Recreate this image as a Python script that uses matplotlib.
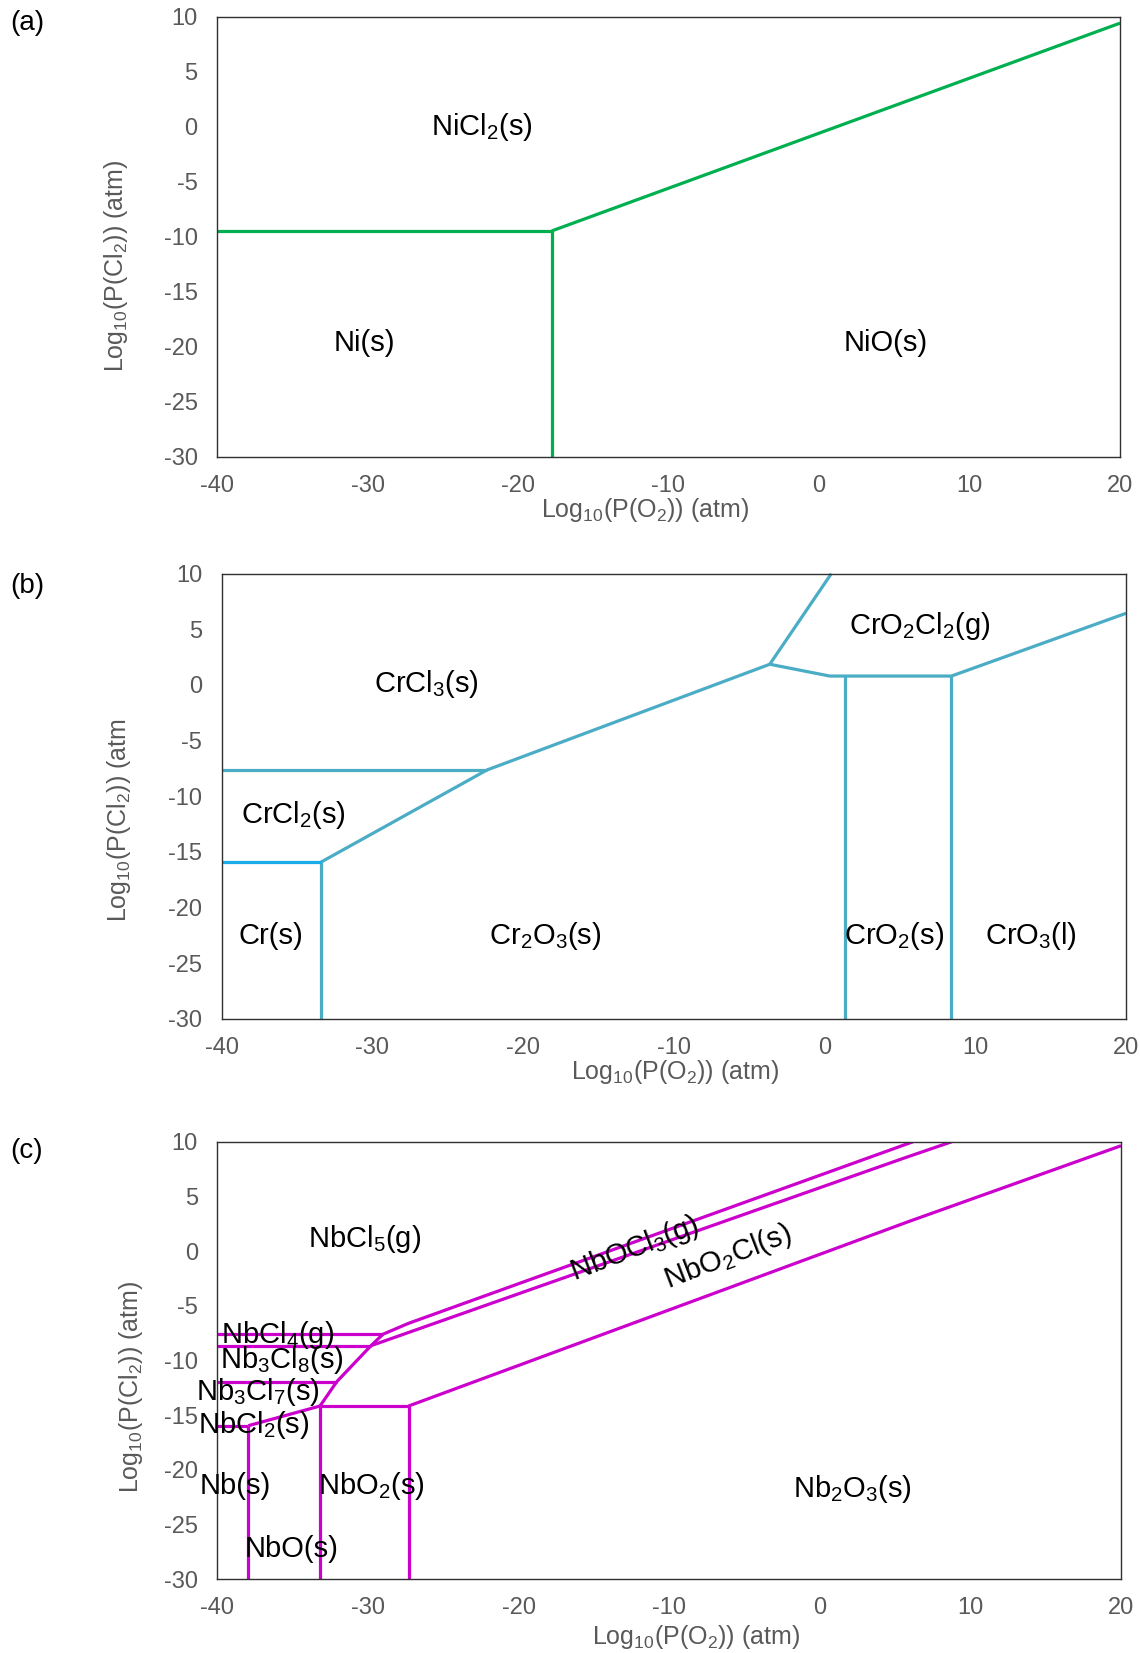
import matplotlib
matplotlib.use("Agg")
import matplotlib.pyplot as plt

plt.rcParams['font.family'] = ['Liberation Sans', 'DejaVu Sans']
plt.rcParams['mathtext.default'] = 'regular'
plt.rcParams['axes.unicode_minus'] = False

# ---------------- data ----------------
xticks = [-40, -30, -20, -10, 0, 10, 20]
yticks = [-30, -25, -20, -15, -10, -5, 0, 5, 10]

# (a) Ni-O-Cl
ni_h_x = [-40, -17.76]
ni_h_y = [-9.45, -9.45]
ni_v_x = [-17.76, -17.76]
ni_v_y = [-30, -9.45]
ni_s_x = [-17.76, 20]
ni_s_y = [-9.45, 9.44]
ni_labels = ['NiCl$_2$(s)', 'Ni(s)', 'NiO(s)']
ni_lab_x = [-22.4, -30.2, 4.45]
ni_lab_y = [0.0, -19.6, -19.6]

# (b) Cr-O-Cl
cr_h1_x = [-40, -22.4]
cr_h1_y = [-7.65, -7.65]
cr_h2_x = [-40, -33.42]
cr_h2_y = [-15.94, -15.94]
cr_v1_x = [-33.42, -33.42]
cr_v1_y = [-30, -15.94]
cr_s1_x = [-33.42, -22.4, -3.63]
cr_s1_y = [-15.94, -7.65, 1.86]
cr_s2_x = [-3.63, 0.45]
cr_s2_y = [1.86, 10]
cr_s3_x = [-3.63, 0.35, 8.42, 20]
cr_s3_y = [1.86, 0.8, 0.8, 6.44]
cr_v2_x = [1.35, 1.35]
cr_v2_y = [-30, 0.8]
cr_v3_x = [8.42, 8.42]
cr_v3_y = [-30, 0.8]
cr_labels = ['CrCl$_3$(s)', 'CrO$_2$Cl$_2$(g)', 'CrCl$_2$(s)', 'Cr(s)',
             'Cr$_2$O$_3$(s)', 'CrO$_2$(s)', 'CrO$_3$(l)']
cr_lab_x = [-26.4, 6.3, -35.2, -36.7, -18.5, 4.6, 13.7]
cr_lab_y = [0.1, 5.3, -11.7, -22.6, -22.6, -22.6, -22.6]

# (c) Nb-O-Cl
nb_h1_x = [-40, -29.0]
nb_h1_y = [-7.6, -7.6]
nb_h2_x = [-40, -29.8]
nb_h2_y = [-8.65, -8.65]
nb_h3_x = [-40, -32.07]
nb_h3_y = [-11.94, -11.94]
nb_h4_x = [-33.18, -27.3]
nb_h4_y = [-14.16, -14.16]
nb_h5_x = [-40, -37.94]
nb_h5_y = [-15.96, -15.96]
nb_ab_x = [-29.8, -29.0]
nb_ab_y = [-8.65, -7.6]
nb_bd_x = [-29.8, -32.07, -33.18]
nb_bd_y = [-8.65, -11.94, -14.16]
nb_fd_x = [-37.94, -33.18]
nb_fd_y = [-15.96, -14.16]
nb_v1_x = [-37.94, -37.94]
nb_v1_y = [-30, -15.96]
nb_v2_x = [-33.18, -33.18]
nb_v2_y = [-30, -14.16]
nb_v3_x = [-27.3, -27.3]
nb_v3_y = [-30, -14.16]
nb_l1_x = [-29.0, -27.3, 6.2]
nb_l1_y = [-7.6, -6.6, 10]
nb_l2_x = [-29.8, 5.55, 8.77]
nb_l2_y = [-8.65, 8.48, 10]
nb_l3_x = [-27.3, 5.88, 20]
nb_l3_y = [-14.16, 2.69, 9.63]
nb_labels = ['NbCl$_5$(g)', 'NbCl$_4$(g)', 'Nb$_3$Cl$_8$(s)', 'Nb$_3$Cl$_7$(s)',
             'NbCl$_2$(s)', 'Nb(s)', 'NbO$_2$(s)', 'NbO(s)', 'Nb$_2$O$_3$(s)']
nb_lab_x = [-30.2, -36.0, -35.7, -37.3, -37.6, -38.8, -29.8, -35.1, 2.15]
nb_lab_y = [1.1, -7.67, -9.95, -12.85, -15.9, -21.5, -21.5, -27.2, -21.75]
nb_rot_labels = ['NbOCl$_3$(g)', 'NbO$_2$Cl(s)']
nb_rot_x = [-12.27, -6.1]
nb_rot_y = [0.23, -0.54]

# ---------------- figure ----------------
W, H = 1140, 1653
fig = plt.figure(figsize=(W / 100, H / 100), dpi=100)

def px_axes(l, t, r, b):
    return fig.add_axes([l / W, 1 - b / H, (r - l) / W, (b - t) / H])

ax_a = px_axes(217, 17, 1120, 457)
ax_b = px_axes(221.5, 573.7, 1126, 1018.7)
ax_c = px_axes(217.3, 1141.7, 1121, 1579.3)

GRAY = '#595959'
TICK_FS = 17
LAB_FS = 18
REG_FS = 21
for ax in (ax_a, ax_b, ax_c):
    ax.set_xlim(-40, 20)
    ax.set_ylim(-30, 10)
    ax.set_xticks(xticks)
    ax.set_yticks(yticks)
    ax.tick_params(length=0, labelsize=TICK_FS, labelcolor=GRAY)
    ax.tick_params(axis='y', pad=14)
    ax.tick_params(axis='x', pad=13)
    for s in ax.spines.values():
        s.set_color('#303030')
        s.set_linewidth(1.0)

LW = 2.3
# (a)
ga = '#00B050'
for xs, ys in [(ni_h_x, ni_h_y), (ni_v_x, ni_v_y), (ni_s_x, ni_s_y)]:
    ax_a.plot(xs, ys, color=ga, lw=LW, solid_capstyle='butt', clip_on=False)
for t, x, y in zip(ni_labels, ni_lab_x, ni_lab_y):
    ax_a.text(x, y, t, fontsize=REG_FS, ha='center', va='center', color='black')

# (b)
cb = '#4BACC6'
for xs, ys in [(cr_h1_x, cr_h1_y), (cr_v1_x, cr_v1_y), (cr_s1_x, cr_s1_y),
               (cr_s2_x, cr_s2_y), (cr_s3_x, cr_s3_y), (cr_v2_x, cr_v2_y),
               (cr_v3_x, cr_v3_y)]:
    ax_b.plot(xs, ys, color=cb, lw=LW, solid_capstyle='butt', clip_on=False)
ax_b.plot(cr_h2_x, cr_h2_y, color='#18ACE8', lw=LW, solid_capstyle='butt')
for t, x, y in zip(cr_labels, cr_lab_x, cr_lab_y):
    ax_b.text(x, y, t, fontsize=REG_FS, ha='center', va='center', color='black')

# (c)
mc = '#CC00CC'
for xs, ys in [(nb_h1_x, nb_h1_y), (nb_h2_x, nb_h2_y), (nb_h3_x, nb_h3_y),
               (nb_h4_x, nb_h4_y), (nb_h5_x, nb_h5_y), (nb_ab_x, nb_ab_y),
               (nb_bd_x, nb_bd_y), (nb_fd_x, nb_fd_y), (nb_v1_x, nb_v1_y),
               (nb_v2_x, nb_v2_y), (nb_v3_x, nb_v3_y), (nb_l1_x, nb_l1_y),
               (nb_l2_x, nb_l2_y), (nb_l3_x, nb_l3_y)]:
    ax_c.plot(xs, ys, color=mc, lw=LW, solid_capstyle='butt')
for t, x, y in zip(nb_labels, nb_lab_x, nb_lab_y):
    ax_c.text(x, y, t, fontsize=REG_FS, ha='center', va='center', color='black',
              clip_on=False)
for t, x, y in zip(nb_rot_labels, nb_rot_x, nb_rot_y):
    ax_c.text(x, y, t, fontsize=REG_FS, ha='center', va='center', color='black',
              rotation=21, rotation_mode='anchor')

# axis titles (placed in figure pixels)
def ftext(x, y, s, **kw):
    fig.text(x / W, 1 - y / H, s, **kw)

xl = 'Log$_{10}$(P(O$_2$)) (atm)'
ftext(645, 510, xl, fontsize=LAB_FS, color=GRAY, ha='center', va='center')
ftext(675, 1072, xl, fontsize=LAB_FS, color=GRAY, ha='center', va='center')
ftext(696, 1637, xl, fontsize=LAB_FS, color=GRAY, ha='center', va='center')

ftext(116, 266, 'Log$_{10}$(P(Cl$_2$)) (atm)', fontsize=LAB_FS, color=GRAY,
      ha='center', va='center', rotation=90)
ftext(119, 820, 'Log$_{10}$(P(Cl$_2$)) (atm', fontsize=LAB_FS, color=GRAY,
      ha='center', va='center', rotation=90)
ftext(131, 1387, 'Log$_{10}$(P(Cl$_2$)) (atm)', fontsize=LAB_FS, color=GRAY,
      ha='center', va='center', rotation=90)

ftext(27, 23, '(a)', fontsize=20, color='black', ha='center', va='center')
ftext(27, 586, '(b)', fontsize=20, color='black', ha='center', va='center')
ftext(27, 1151, '(c)', fontsize=20, color='black', ha='center', va='center')

fig.savefig('out.png', dpi=100, facecolor='white')
